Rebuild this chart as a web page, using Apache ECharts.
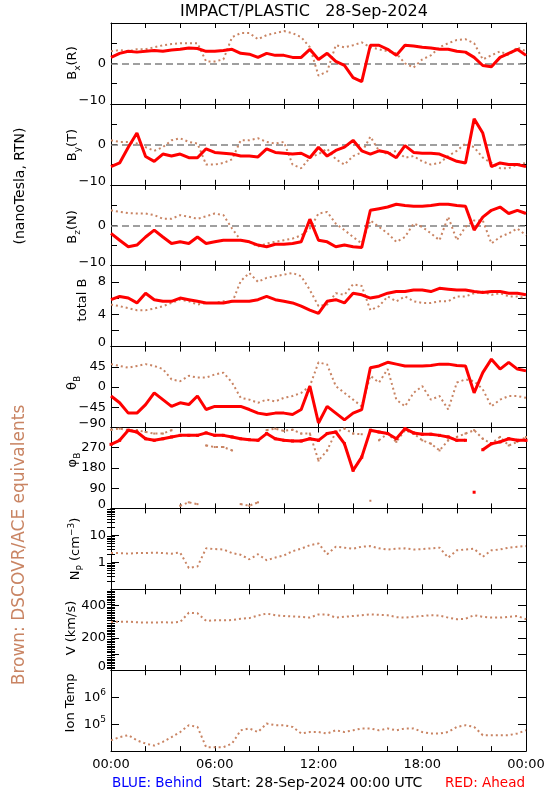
<!DOCTYPE html>
<html><head><meta charset="utf-8">
<script src="https://cdn.jsdelivr.net/npm/echarts@6/dist/echarts.min.js"></script>
<style>html,body{margin:0;padding:0;background:#fff}#c{width:550px;height:800px}</style>
</head><body><div id="c"></div>
<script>
// ---- time axis (hours since 28-Sep-2024 00:00 UTC) ----
const hours = [0,0.5,1,1.5,2,2.5,3,3.5,4,4.5,5,5.5,6,6.5,7,7.5,8,8.5,9,9.5,10,10.5,11,11.5,12,12.5,13,13.5,14,14.5,15,15.5,16,16.5,17,17.5,18,18.5,19,19.5,20,20.5,21,21.5,22,22.5,23,23.5,24];
const xTickLabels = ['00:00','06:00','12:00','18:00','00:00'];

// ---- RED: STEREO-A (Ahead) ----
const bxRed = [1.5,2.5,3,2.8,3,3.2,3,3.3,3.5,3.8, 3.7,3,3,3.2,3.5,2.5,2.3,1.5,2.5,2, 2,1.5,1.5,3.5,1.0,2.5,0.5,-0.5,-3.5,-4.5, 4.5,4.5,3.5,2,4.5,4.3,4,3.8,3.5,3.5, 3,2.8,1.5,-0.5,-0.8,1.5,2.5,3.5,2];
const byRed = [-5.5,-4.6,-0.7,2.8,-3,-4.2,-2.4,-2.9,-2.4,-3.3, -3.3,-1.1,-2,-2.2,-2.4,-2.9,-2.9,-3.1,-1.1,-2, -2.2,-2.4,-2.2,-3.3,-0.7,-2.9,-1.5,-0.7,1,-1.6, -2.4,-1.6,-2,-3.3,-0.3,-2,-2.2,-2.2,-2.4,-3.3, -4.2,-4.6,6.3,2.8,-5.5,-4.6,-5,-5,-5.5];
const bzRed = [-2,-3.7,-5.3,-4.9,-2.9,-1.2,-2.9,-4.5,-4.1,-4.5, -2.9,-4.5,-4.1,-3.7,-3.7,-3.7,-4.1,-4.9,-5.3,-4.7, -4.7,-4.5,-4.1,1.5,-3.7,-4.1,-5.3,-4.9,-5.3,-5.5, 3.7,4.1,4.5,5.2,4.9,4.7,4.7,4.9,5.2,5.2, 4.9,4.7,-1.2,2,3.7,4.5,2.9,3.7,2.9];
const btRed = [5.8,6.2,6,5.4,6.6,5.8,5.6,5.6,6,5.8, 5.6,5.4,5.4,5.4,5.6,5.6,5.6,5.8,6.2,5.8, 5.6,5.4,5,4.5,4.1,5.6,5.8,5.4,6.6,6.4, 6,6.2,6.6,6.8,6.8,7,7,6.8,7.2,7.1, 7,7,6.8,6.7,6.8,6.8,6.6,6.6,6.4];
const thRed = [-20,-35,-58,-58,-39,-13,-28,-43,-35,-39, -20,-50,-43,-43,-43,-43,-50,-58,-61,-58, -58,-61,-50,2,-80,-43,-58,-73,-58,-50, 43,47,55,51,47,47,47,48,51,51, 48,47,-13,32,62,40,55,40,36];
const phRed = [285,303,348,340,310,303,310,318,325,325, 325,336,325,325,318,310,306,303,333,310, 303,300,300,310,303,333,340,288,169,228, 348,340,333,310,355,336,330,330,325,318, 303,303,72,261,288,296,310,303,303];

// ---- BROWN: DSCOVR/ACE equivalents ----
const bxBrown = [3,3.3,3,3.5,3.5,4,4.5,4.8,5,5, 5,0.5,0.5,1,6.5,7.5,7.5,6,7,7.5, 8,7.5,6.5,4,-3,-2,4.5,4,4.5,5.2, 4,3.5,3,2.5,0,-1,1,2,4,5, 5.8,6,5,1,2,3,2,4,3];
const byBrown = [1,0.6,0.6,0.2,-0.7,-1.6,-0.7,1,1.5,0.6, 0.2,-5,-5,-4.6,-3.7,1,1,1.5,0.6,0.2, 0.6,-5,-5.9,-3.3,-2.4,-1.1,-3.7,-5,-2.9,-2, 1.9,-1.6,-2.4,-1.6,-3.3,-2.9,-4.2,-5,-4.6,-2.9, -1.6,0.2,-0.7,-3.3,-4.6,-5.9,-5.9,-5,-4.6];
const bzBrown = [3.7,3.3,3,2.9,2.9,2.5,1.6,1.6,2.5,2.1, 1.6,2.2,2.9,2.5,-0.8,-3.7,-4.1,-5.3,-4.5,-4.1, -3.7,-3.3,-2.5,-0.8,2.9,3.3,0.4,-1.2,-2.9,-4.5, 1.2,-0.4,-2,-4.1,-2.9,0.4,-0.4,-2,-3.7,2.1, -3.7,-0.4,1.2,1.2,-4.5,-2.9,-2,-0.8,-2.5];
const btBrown = [5.2,5,4.75,4.5,4.5,4.7,5,5.4,5.8,5.6, 5.2,5.4,5.4,5.6,5.4,8.1,9.1,8,8.5,8.7, 8.9,9.1,8.7,7,5,5.2,6.6,6.4,7.7,7.5, 4.5,5,6.2,5.6,6.2,5.6,5.4,5.4,5.6,5.6, 6.2,6.2,6.6,6.8,6.4,6.6,6.2,6.2,6];
const thBrown = [51,47,43,47,51,47,40,17,13,25, 21,21,28,32,10,-24,-28,-35,-28,-32, -24,-20,-13,2,55,50,2,-13,-28,-43, 25,10,40,-28,-43,-13,2,-28,-20,-50, 10,17,13,-5,-43,-28,-20,-20,-24];
const phBrown = [350,355,348,348,340,333,333,348,12,27, 19,280,273,273,258,19,12,27,348,355, 345,350,333,333,213,258,340,355,333,330, 34,303,333,296,348,333,303,288,258,303, 318,333,348,310,288,318,280,296,318];
const npBrown = [2.2,2.2,2.1,2.2,2.2,2.3,2.2,2.1,2.3,0.62, 0.7,3.3,3.1,3.0,2.2,1.9,1.3,2.0,1.2,1.5, 1.8,2.6,3.2,4.3,5,2.0,3.8,3.5,3.2,3.8, 4.0,3.3,3.0,3.2,3.3,3.0,3.1,3.3,3.5,1.5, 2.8,3.0,3.2,1.6,2.8,3.0,3.5,3.8,4.0];
const vBrown = [298,300,300,296,295,295,296,295,298,355, 352,305,308,308,310,318,322,338,350,340, 335,332,330,325,345,345,325,330,335,340, 345,342,340,328,325,330,335,340,338,325, 315,318,340,330,325,325,330,335,315];
const tBrown = [25000,33000,39000,25000,19000,16000,22000,33000,51000,91000, 79000,14000,14000,14000,19000,59000,69000,51000,105000,91000, 91000,79000,45000,51000,51000,45000,59000,51000,59000,69000, 69000,59000,69000,59000,69000,69000,51000,45000,45000,51000, 79000,91000,79000,39000,39000,39000,39000,45000,59000];

// ---- tick labels per panel ----
const bLabels = {'0':'0','-10':'{lo|−10}'};
const btLabels = {'0':'{lo|0}','4':'4','8':'8'};
const thLabels = {'45':'45','0':'0','-45':'−45','-90':'{lo|−90}'};
const phLabels = {'0':'{lo|0}','90':'90','180':'180','270':'270'};
const npLabels = {'1':'1','10':'10'};
const vLabels = {'0':'{lo|0}','200':'200','400':'400'};
const tLabels = {'100000':'{b|10}{sup|5}','1000000':'{b|10}{sup|6}'};

const FONT = 'DejaVu Sans';
const RED = '#ff0000', BROWN = '#c98463';
const TOP0 = 23, PH = 80.9, LEFT = 111, RIGHT = 24;

const panels = [
  {red:bxRed, brown:bxBrown, min:-10, max:10, interval:5, labels:bLabels, zero:true, tick:6},
  {red:byRed, brown:byBrown, min:-10, max:10, interval:5, labels:bLabels, zero:true, tick:6},
  {red:bzRed, brown:bzBrown, min:-10, max:10, interval:5, labels:bLabels, zero:true, tick:6},
  {red:btRed, brown:btBrown, min:0, max:10, interval:2, labels:btLabels},
  {red:thRed, brown:thBrown, min:-90, max:90, interval:45, labels:thLabels},
  {red:phRed, brown:phBrown, min:0, max:360, interval:90, labels:phLabels, wrap:true},
  {brown:npBrown, log:true, min:0.1, max:100, labels:npLabels, minorLog:true},
  {brown:vBrown, min:0, max:500, interval:100, labels:vLabels, minorLin:true},
  {brown:tBrown, log:true, min:1e4, max:1e7, labels:tLabels}
];

function pairs(vals, wrap){
  const out = [];
  for (let k=0;k<vals.length;k++){
    if (wrap && k>0 && Math.abs(vals[k]-vals[k-1])>180) out.push([hours[k], null]);
    out.push([hours[k], vals[k]]);
  }
  return out;
}
function fmtKey(v){ return String(Math.round(v*1000)/1000); }

const rich = {
  lo:{padding:[0,0,7,0], fontSize:13, fontFamily:FONT, color:'#000'},
  b:{fontSize:13, fontFamily:FONT, color:'#000'},
  sup:{fontSize:9, fontFamily:FONT, color:'#000', padding:[0,0,9,0]}
};

const grids=[], xAxes=[], yAxes=[], series=[];
panels.forEach((p,i)=>{
  grids.push({left:LEFT, right:RIGHT, top:TOP0+i*PH, height:PH});
  const xb = {gridIndex:i, type:'value', min:0, max:24, interval:2, position:'bottom',
    axisLine:{show:true, onZero:false, lineStyle:{color:'#000', width:1}},
    axisTick:{show:true, inside:true, length:5, lineStyle:{color:'#000'}},
    axisLabel:{show:i===8, margin:7, color:'#000', fontSize:13, fontFamily:FONT,
      formatter:v=> (v%6===0) ? xTickLabels[v/6] : ''},
    splitLine:{show:false}};
  const xt = {gridIndex:i, type:'value', min:0, max:24, interval:2, position:'top',
    axisLine:{show:true, onZero:false, lineStyle:{color:'#000', width:1}},
    axisTick:{show:true, inside:true, length:5, lineStyle:{color:'#000'}},
    axisLabel:{show:false}, splitLine:{show:false}};
  const xIdx = xAxes.length; xAxes.push(xb, xt);
  const base = {gridIndex:i, min:p.min, max:p.max,
    axisLine:{show:true, onZero:false, lineStyle:{color:'#000', width:1}},
    axisTick:{show:true, inside:true, length:p.tick||8, lineStyle:{color:'#000'}},
    splitLine:{show:false}};
  if (p.log){ base.type='log'; base.logBase=10; } else { base.type='value'; base.interval=p.interval; }
  const yl = Object.assign({}, base, {position:'left',
    axisLabel:{show:true, margin:5, color:'#000', fontSize:13, fontFamily:FONT, rich:rich,
      formatter:v=> p.labels[fmtKey(v)] || ''}});
  const yr = Object.assign({}, base, {position:'right', axisLabel:{show:false}});
  const yIdx = yAxes.length; yAxes.push(yl, yr);
  let mv=null, mmin, mmax;
  if (p.minorLog){
    mv=[]; [0.1,1,10].forEach(d=>{for(let m=2;m<=9;m++) mv.push(Math.log10(m*d));});
    mmin=-1; mmax=2;
  }
  if (p.minorLin){
    mv=[]; for(let v=10; v<500; v+=10) if (v%100) mv.push(v);
    mmin=p.min; mmax=p.max;
  }
  if (mv){
    ['left','right'].forEach(pos=>yAxes.push({gridIndex:i, type:'value', min:mmin, max:mmax, position:pos,
      axisLine:{show:false}, axisLabel:{show:false}, splitLine:{show:false},
      axisTick:{show:true, inside:true, length:4, customValues:mv, lineStyle:{color:'#000'}}}));
  }
  series.push({type:'line', xAxisIndex:xIdx, yAxisIndex:yIdx, data:pairs(p.brown, p.wrap),
    symbol:'rect', symbolSize:2, showSymbol:!!p.wrap, itemStyle:{color:BROWN},
    connectNulls:false, z:2, silent:true,
    lineStyle:{color:BROWN, width:2, type:[2,3]}});
  if (p.red){
    const s = {type:'line', xAxisIndex:xIdx, yAxisIndex:yIdx, data:pairs(p.red, p.wrap),
      symbol:'rect', symbolSize:3, showSymbol:!!p.wrap, itemStyle:{color:RED},
      connectNulls:false, z:3, silent:true,
      lineStyle:{color:RED, width:3}};
    if (p.zero){
      s.markLine = {silent:true, symbol:['none','none'], label:{show:false}, z:1,
        lineStyle:{color:'#808080', width:1.5, type:[7,4]}, data:[{yAxis:0}]};
    }
    series.push(s);
  }
});

function vtext(x,y,text,opt){
  return Object.assign({type:'text', x:x, y:y, rotation:Math.PI/2, silent:true,
    style:Object.assign({text:text, fill:'#000', fontSize:13, fontFamily:FONT,
      textAlign:'center', textVerticalAlign:'middle',
      rich:{s:{fontSize:9, fontFamily:FONT, fill:'#000', padding:[9,0,0,0]},
            p:{fontSize:9, fontFamily:FONT, fill:'#000', padding:[0,0,9,0]}}}, opt||{})});
}
function htext(x,y,text,align,fill,size){
  return {type:'text', x:x, y:y, silent:true,
    style:{text:text, fill:fill||'#000', fontSize:size||13, fontFamily:FONT, textAlign:align, textVerticalAlign:'middle'}};
}

const graphic = [
  htext(304, 12, 'IMPACT/PLASTIC   28-Sep-2024', 'center', '#000', 16),
  vtext(73, 63, 'B{s|x}(R)'),
  vtext(73, 145, 'B{s|y}(T)'),
  vtext(73, 227, 'B{s|z}(N)'),
  vtext(83, 300, 'total B'),
  vtext(73, 383, 'θ{s|B}'),
  vtext(73, 460, 'φ{s|B}'),
  vtext(76, 549, 'N{s|P} (cm{p|−3})'),
  vtext(72, 628, 'V (km/s)'),
  vtext(71, 703, 'Ion Temp'),
  vtext(20, 186, '(nanoTesla, RTN)', {fontSize:14}),
  vtext(20, 545, 'Brown: DSCOVR/ACE equivalents', {fill:BROWN, fontSize:17}),
  htext(112, 783, 'BLUE: Behind', 'left', '#0000ff', 13.5),
  htext(212, 783, 'Start: 28-Sep-2024 00:00 UTC', 'left', '#000', 14),
  htext(525, 783, 'RED: Ahead', 'right', '#ff0000', 13.5)
];

const chart = echarts.init(document.getElementById('c'), null, {renderer:'canvas'});
chart.setOption({animation:false, backgroundColor:'#fff', textStyle:{fontFamily:FONT},
  grid:grids, xAxis:xAxes, yAxis:yAxes, series:series, graphic:graphic});
</script>
</body></html>
